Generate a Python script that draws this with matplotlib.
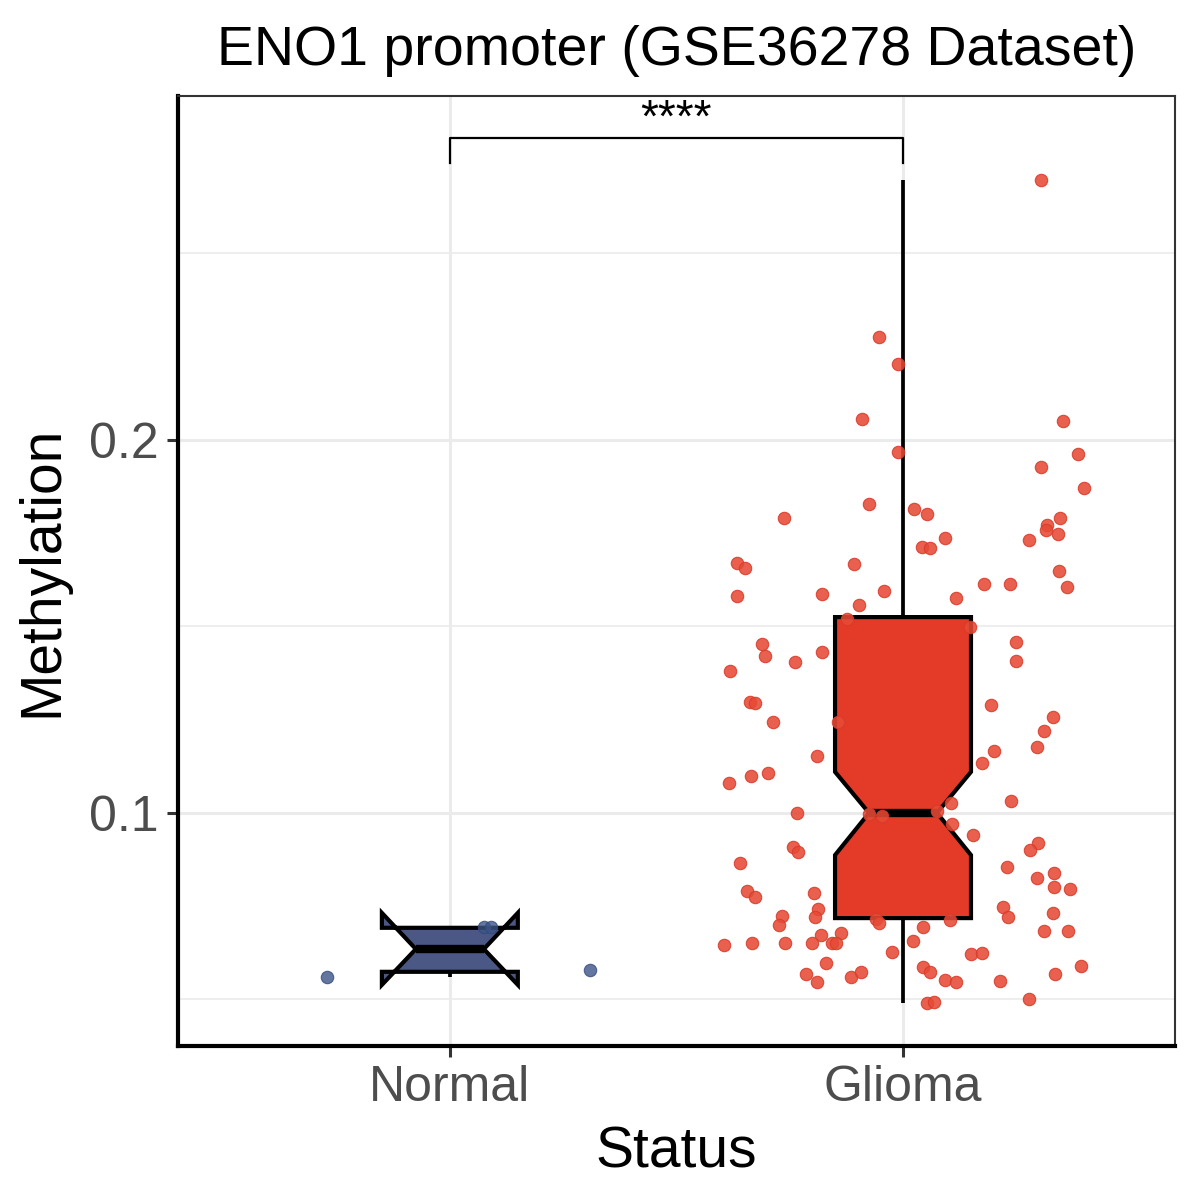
import numpy as np
import matplotlib
matplotlib.use("Agg")
from matplotlib import pyplot as plt

plt.rcParams['font.family'] = ['Liberation Sans', 'DejaVu Sans']

groups = ["Normal", "Glioma"]
box_fill = ["#4B5784", "#E43B28"]
point_col = ["#3C5488", "#E64B35"]

# box statistics
q1 = [0.0574, 0.0718]
med = [0.0635, 0.1000]
q3 = [0.0692, 0.1525]
ci_lo = [0.0539, 0.0887]
ci_hi = [0.0732, 0.1110]
wh_lo = [0.0560, 0.0491]
wh_hi = [0.0694, 0.2697]

# jittered points: offset from group centre, value
normal_dx = [-0.272, 0.309, 0.075, 0.091]
normal_y = [0.0560, 0.0579, 0.0694, 0.0694]

glioma_dx = [0.305, -0.053, -0.011, -0.091, 0.353, -0.011, 0.386, 0.305, 0.400, -0.075,
             0.024, 0.053, -0.263, 0.347, 0.318, 0.316, 0.342, 0.278, 0.093, 0.042,
             0.060, -0.366, -0.349, -0.108, 0.344, -0.366, -0.179, -0.042, 0.179, 0.236,
             0.362, 0.117, -0.097, -0.124, 0.148, 0.249, -0.311, -0.305, -0.179, 0.249,
             -0.238, -0.382, -0.338, -0.327, 0.194, -0.287, 0.331, -0.143, 0.311, 0.296,
             0.201, -0.190, 0.174, -0.336, -0.298, -0.384, 0.238, 0.106, -0.234, -0.075,
             -0.046, 0.075, 0.108, 0.155, -0.243, -0.232, 0.298, 0.280, -0.360, 0.230,
             0.333, 0.296, 0.333, 0.369, -0.344, -0.327, -0.196, 0.221, 0.232, -0.188,
             -0.267, -0.274, -0.194, 0.331, -0.060, -0.053, 0.104, 0.044, 0.311, 0.364,
             -0.137, -0.181, 0.022, -0.395, -0.333, -0.260, -0.201, -0.157, -0.148, -0.024,
             0.150, 0.174, -0.170, 0.393, 0.044, 0.060, -0.214, -0.190, -0.115, -0.093,
             0.093, 0.117, 0.214, 0.335, 0.053, 0.068, 0.278]
glioma_y = [0.2697, 0.2276, 0.2204, 0.2056, 0.2051, 0.1968, 0.1962, 0.1928, 0.1871, 0.1828,
            0.1815, 0.1802, 0.1791, 0.1791, 0.1772, 0.1759, 0.1748, 0.1732, 0.1737, 0.1713,
            0.1710, 0.1670, 0.1657, 0.1668, 0.1649, 0.1582, 0.1587, 0.1595, 0.1614, 0.1614,
            0.1606, 0.1576, 0.1558, 0.1520, 0.1499, 0.1458, 0.1453, 0.1421, 0.1432, 0.1408,
            0.1405, 0.1381, 0.1298, 0.1295, 0.1290, 0.1244, 0.1257, 0.1244, 0.1220, 0.1177,
            0.1166, 0.1153, 0.1134, 0.1099, 0.1107, 0.1080, 0.1032, 0.1027, 0.1000, 0.0997,
            0.0992, 0.1005, 0.0971, 0.0941, 0.0909, 0.0895, 0.0920, 0.0901, 0.0866, 0.0855,
            0.0839, 0.0826, 0.0802, 0.0796, 0.0791, 0.0775, 0.0786, 0.0748, 0.0721, 0.0743,
            0.0724, 0.0700, 0.0721, 0.0732, 0.0716, 0.0705, 0.0713, 0.0694, 0.0684, 0.0684,
            0.0678, 0.0673, 0.0657, 0.0646, 0.0651, 0.0651, 0.0651, 0.0651, 0.0651, 0.0627,
            0.0622, 0.0625, 0.0598, 0.0590, 0.0587, 0.0574, 0.0568, 0.0547, 0.0560, 0.0574,
            0.0552, 0.0547, 0.0550, 0.0568, 0.0491, 0.0493, 0.0501]

title = "ENO1 promoter (GSE36278 Dataset)"
sig_label = "****"
sig_y = 0.2810

fig = plt.figure(figsize=(12, 12), dpi=100)
ax = fig.add_axes([0.1483, 0.1283, 0.8308, 0.7917])

pos = [1, 2]
stats = []
for i in range(2):
    stats.append(dict(med=med[i], q1=q1[i], q3=q3[i], cilo=ci_lo[i], cihi=ci_hi[i],
                      whislo=wh_lo[i], whishi=wh_hi[i], fliers=[]))
bp = ax.bxp(stats, positions=pos, widths=0.3, shownotches=True, patch_artist=True,
            showcaps=False, zorder=2,
            boxprops=dict(linewidth=3.0, edgecolor="black"),
            whiskerprops=dict(linewidth=2.7, color="black", solid_capstyle="butt"),
            medianprops=dict(linewidth=6, color="black", solid_capstyle="butt"))
for patch, c in zip(bp['boxes'], box_fill):
    patch.set_facecolor(c)
    patch.set_joinstyle("miter")

ax.scatter(1 + np.array(normal_dx), normal_y, s=80, color=point_col[0], alpha=0.8,
           edgecolors="#34497A", linewidths=0.8, zorder=3)
ax.scatter(2 + np.array(glioma_dx), glioma_y, s=80, color=point_col[1], alpha=0.88,
           edgecolors="#D93A2A", linewidths=0.8, zorder=3)

# significance bracket
ax.plot([1, 1, 2, 2], [sig_y - 0.0067, sig_y, sig_y, sig_y - 0.0067], color="black",
        lw=1.6, zorder=4, clip_on=False)
ax.text(1.5, sig_y + 0.0016, sig_label, ha="center", va="baseline", fontsize=33, zorder=5)

ax.set_xlim(0.4, 2.6)
ax.set_ylim(0.0375, 0.2922)
ax.set_xticks(pos)
ax.set_xticklabels(groups)
ax.set_yticks([0.1, 0.2])
ax.set_yticklabels(["0.1", "0.2"])
ax.set_yticks([0.05, 0.15, 0.25], minor=True)
ax.grid(True, which="major", color="#EBEBEB", lw=2.2, zorder=0)
ax.grid(True, which="minor", axis="y", color="#EBEBEB", lw=1.2, zorder=0)
ax.set_axisbelow(True)
ax.tick_params(axis="both", which="major", labelsize=36, labelcolor="#4D4D4D",
               color="#333333", length=8, width=2.2, pad=6)
ax.tick_params(axis="y", which="minor", length=0)

for side in ["top", "right"]:
    ax.spines[side].set_color("#333333")
    ax.spines[side].set_linewidth(1.5)
for side in ["left", "bottom"]:
    ax.spines[side].set_color("black")
    ax.spines[side].set_linewidth(3)

ax.set_xlabel("Status", fontsize=41, labelpad=10)
ax.set_ylabel("Methylation", fontsize=41, labelpad=14)
ax.set_title(title, fontsize=40, pad=22)

fig.savefig("out.png", dpi=100)
